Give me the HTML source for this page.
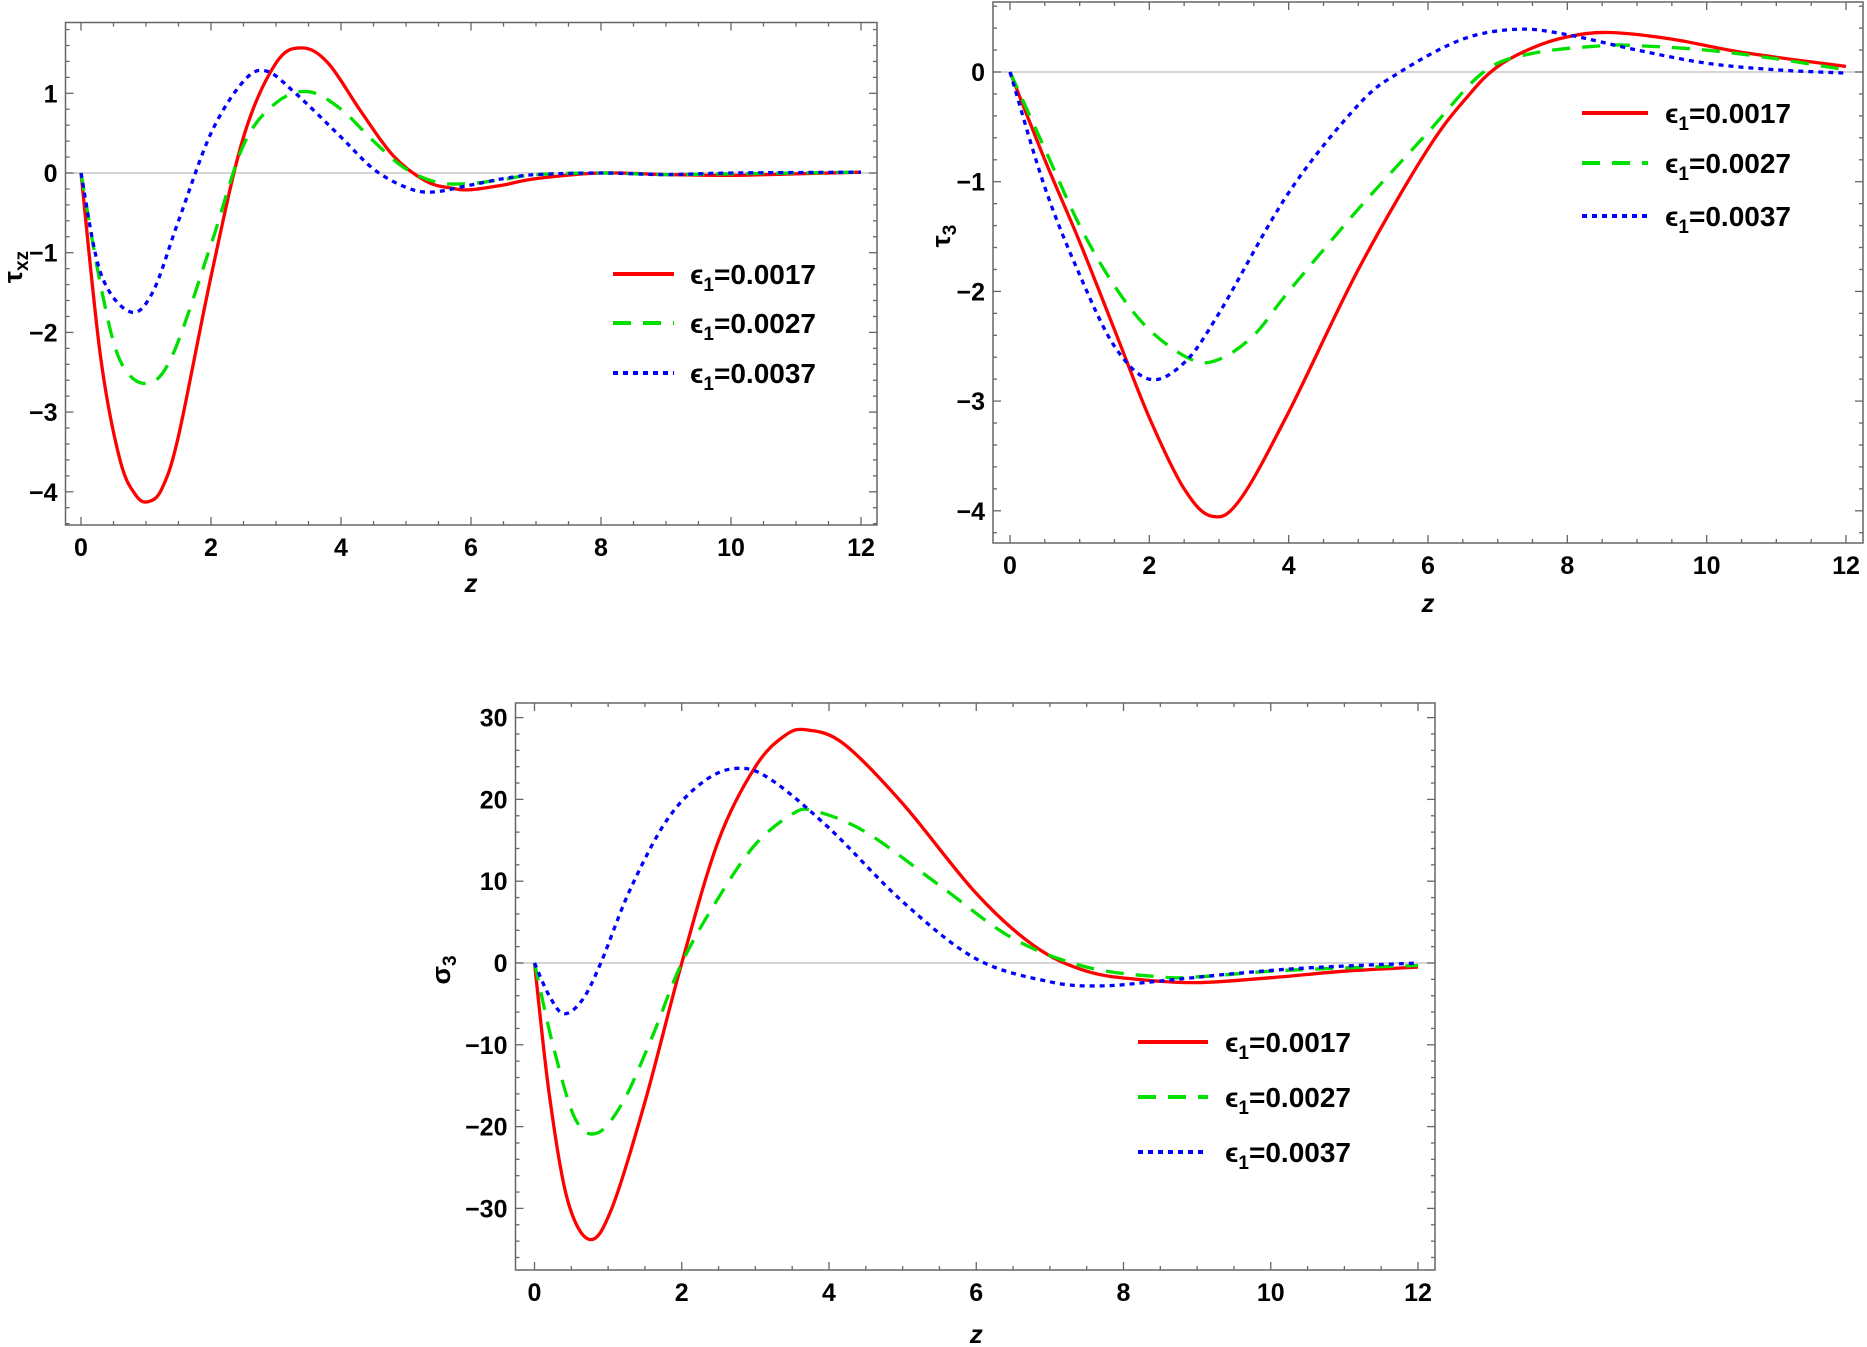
<!DOCTYPE html>
<html><head><meta charset="utf-8"><style>
html,body{margin:0;padding:0;background:#fff;}
svg{display:block;}
text{font-family:"Liberation Sans",sans-serif;font-weight:bold;fill:#000;}
</style></head><body>
<svg id="s" width="1867" height="1347" xmlns="http://www.w3.org/2000/svg"></svg>
<script>
const S=document.getElementById('s');
let out='';
function cr(pts){
  let d='M'+pts[0][0].toFixed(1)+','+pts[0][1].toFixed(1);
  for(let i=0;i<pts.length-1;i++){
    const p0=pts[Math.max(0,i-1)],p1=pts[i],p2=pts[i+1],p3=pts[Math.min(pts.length-1,i+2)];
    const c1=[p1[0]+(p2[0]-p0[0])/6,p1[1]+(p2[1]-p0[1])/6];
    const c2=[p2[0]-(p3[0]-p1[0])/6,p2[1]-(p3[1]-p1[1])/6];
    d+=' C'+c1[0].toFixed(1)+','+c1[1].toFixed(1)+' '+c2[0].toFixed(1)+','+c2[1].toFixed(1)+' '+p2[0].toFixed(1)+','+p2[1].toFixed(1);
  }
  return d;
}
function plot(P){
  const X=v=>P.x0+(P.x12-P.x0)*v/12, Y=v=>P.y0-v*P.py;
  out+=`<line x1="${P.L}" x2="${P.R}" y1="${P.y0}" y2="${P.y0}" stroke="#c8c8c8" stroke-width="1.5"/>`;
  out+=`<rect x="${P.L}" y="${P.T}" width="${P.R-P.L}" height="${P.B-P.T}" fill="none" stroke="#666" stroke-width="1.5"/>`;
  for(let v=0;v<=12.001;v+=0.5){
    const maj=Math.abs(v/2-Math.round(v/2))<1e-6, l=maj?8:4, x=X(v);
    out+=`<line x1="${x}" x2="${x}" y1="${P.B}" y2="${P.B-l}" stroke="#666" stroke-width="1.3"/>`;
    out+=`<line x1="${x}" x2="${x}" y1="${P.T}" y2="${P.T+l}" stroke="#666" stroke-width="1.3"/>`;
    if(maj) out+=`<text x="${x}" y="${P.B+31}" font-size="25" text-anchor="middle">${Math.round(v)}</text>`;
  }
  for(let k=Math.ceil(P.ymin/P.ym);k*P.ym<=P.ymax+1e-9;k++){
    const v=k*P.ym, y=Y(v); if(y<P.T-0.5||y>P.B+0.5)continue;
    const maj=Math.abs(v/P.yM-Math.round(v/P.yM))<1e-6, l=maj?8:4;
    out+=`<line x1="${P.L}" x2="${P.L+l}" y1="${y}" y2="${y}" stroke="#666" stroke-width="1.3"/>`;
    out+=`<line x1="${P.R}" x2="${P.R-l}" y1="${y}" y2="${y}" stroke="#666" stroke-width="1.3"/>`;
    if(maj){const r=Math.round(v);out+=`<text x="${P.L-8}" y="${y+9}" font-size="25" text-anchor="end">${r<0?'\u2212'+(-r):r}</text>`;}
  }
  const st=[['#ff0000',''],['#00e000','18,12'],['#0000ff','5,5']];
  P.series.forEach((s,i)=>{
    const pts=s.map(p=>[X(p[0]),Y(p[1])]);
    out+=`<path d="${cr(pts)}" fill="none" stroke="${st[i][0]}" stroke-width="3.3" ${st[i][1]?'stroke-dasharray="'+st[i][1]+'"':''}/>`;
  });
  const labs=['0.0017','0.0027','0.0037'];
  P.leg.rows.forEach((ry,i)=>{
    out+=`<line x1="${P.leg.l1}" x2="${P.leg.l2}" y1="${ry}" y2="${ry}" stroke="${st[i][0]}" stroke-width="4" ${st[i][1]?'stroke-dasharray="'+st[i][1]+'"':''}/>`;
    out+=`<text x="${P.leg.tx}" y="${ry+10}" font-size="28">\u03F5<tspan font-size="19" dy="7">1</tspan><tspan dy="-7">=${labs[i]}</tspan></text>`;
  });
  out+=`<text x="${(P.x0+P.x12)/2}" y="${P.zy}" font-size="26" font-style="italic" text-anchor="middle">z</text>`;
  out+=`<text transform="translate(${P.yl[0]},${P.yl[1]}) rotate(-90)" font-size="27" text-anchor="middle">${P.ylab}</text>`;
}
plot({L:65.5,R:877,T:22.5,B:525,x0:81,x12:861,y0:173,py:79.7,ymin:-4.4,ymax:1.9,ym:0.2,yM:1,
 ylab:'\u03C4<tspan font-size="19" dy="6">xz</tspan>',yl:[22,267],zy:592,
 leg:{l1:613,l2:674,tx:690,rows:[274,323,373]},
 series:[
 [[0,0],[0.3,-2.3],[0.6,-3.6],[0.85,-4.05],[1.05,-4.12],[1.25,-3.95],[1.5,-3.3],[2,-1.3],[2.5,0.45],[3,1.38],[3.4,1.57],[3.8,1.38],[4.3,0.78],[4.8,0.22],[5.3,-0.1],[5.7,-0.19],[6,-0.21],[6.5,-0.15],[7,-0.07],[8,0],[9,-0.02],[10,-0.03],[11,-0.01],[12,0.01]],
 [[0,0],[0.3,-1.4],[0.6,-2.35],[1,-2.64],[1.4,-2.3],[2,-0.9],[2.5,0.35],[3,0.88],[3.5,1.02],[4,0.8],[4.5,0.4],[5,0.05],[5.5,-0.12],[6,-0.13],[6.5,-0.08],[7,-0.02],[8,0],[9,-0.02],[10,-0.01],[12,0.01]],
 [[0,0],[0.3,-1.25],[0.75,-1.74],[1.1,-1.5],[1.5,-0.6],[2,0.5],[2.5,1.15],[2.85,1.28],[3.3,1.0],[4,0.45],[4.5,0.05],[5,-0.18],[5.4,-0.24],[6,-0.15],[6.5,-0.07],[7,-0.02],[8,0],[9,-0.02],[10,0],[12,0.01]]
 ]});
plot({L:993,R:1863,T:2,B:543,x0:1010,x12:1846,y0:72,py:109.7,ymin:-4.3,ymax:0.66,ym:0.2,yM:1,
 ylab:'\u03C4<tspan font-size="19" dy="6">3</tspan>',yl:[950,236],zy:612,
 leg:{l1:1582,l2:1648,tx:1665,rows:[113,163,216]},
 series:[
 [[0,0],[0.5,-0.8],[1,-1.55],[1.5,-2.35],[2,-3.15],[2.5,-3.8],[2.9,-4.05],[3.3,-3.9],[4,-3.1],[5,-1.8],[6,-0.7],[6.6,-0.2],[7,0.05],[7.5,0.22],[8,0.32],[8.6,0.36],[9.5,0.3],[10.5,0.18],[12,0.05]],
 [[0,0],[0.5,-0.7],[1,-1.4],[1.5,-1.95],[2,-2.35],[2.6,-2.62],[3,-2.62],[3.5,-2.4],[4,-2.0],[5,-1.25],[6,-0.55],[6.8,0],[7.5,0.17],[8.5,0.24],[9,0.24],[10,0.2],[11,0.12],[12,0.02]],
 [[0,0],[0.5,-1.05],[1,-1.85],[1.5,-2.5],[2,-2.8],[2.5,-2.65],[3,-2.2],[4,-1.1],[5,-0.3],[5.6,0],[6.5,0.3],[7.3,0.39],[8,0.34],[9,0.2],[10,0.08],[11,0.02],[12,-0.01]]
 ]});
plot({L:515.5,R:1435,T:703,B:1270,x0:534.5,x12:1418,y0:963,py:8.18,ymin:-37,ymax:32,ym:2,yM:10,
 ylab:'\u03C3<tspan font-size="19" dy="6">3</tspan>',yl:[450,970],zy:1343,
 leg:{l1:1138,l2:1208,tx:1225,rows:[1042,1097,1152]},
 series:[
 [[0,0],[0.2,-16],[0.45,-29],[0.75,-33.8],[1.05,-30],[1.5,-17],[2,0],[2.5,15],[3,24],[3.4,27.8],[3.7,28.5],[4.2,26.8],[5,19.5],[6,8.5],[6.8,2],[7.5,-1],[8.2,-2],[9,-2.4],[10,-1.8],[11,-1],[12,-0.5]],
 [[0,0],[0.25,-10],[0.55,-19],[0.85,-20.8],[1.2,-17],[1.6,-9],[2,0],[2.5,8],[3,14.5],[3.5,18.2],[3.8,18.6],[4.5,16],[5.5,9.5],[6.5,3],[7.5,-0.5],[8.5,-1.7],[9,-1.7],[10,-1],[11,-0.6],[12,-0.3]],
 [[0,0],[0.2,-4],[0.4,-6.2],[0.65,-4.5],[0.9,0],[1.3,9],[1.8,17.5],[2.3,22.2],[2.75,23.8],[3.2,22.5],[4,16.5],[5,7.5],[6,0.5],[7,-2.3],[7.7,-2.8],[8.5,-2.2],[9.5,-1.3],[10.5,-0.6],[12,0]]
 ]});
S.innerHTML=out;
</script>
</body></html>
